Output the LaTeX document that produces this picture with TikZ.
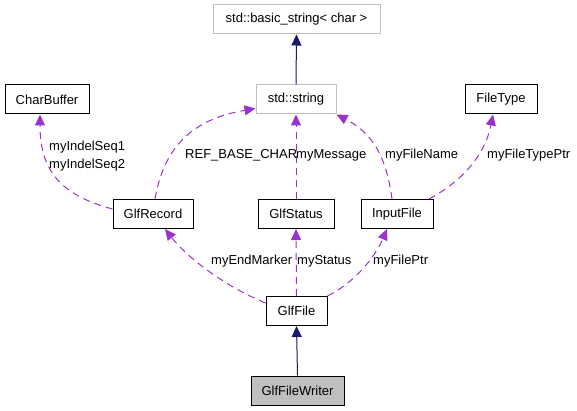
\documentclass[tikz,border=0pt]{standalone}
\usepackage{fontspec}
\setmainfont{Liberation Sans}
\usetikzlibrary{arrows.meta,calc}
\definecolor{edgepurple}{HTML}{9A32CD}
\definecolor{edgenavy}{HTML}{191970}
\definecolor{boxgray}{HTML}{BFBFBF}
\begin{document}
\begin{tikzpicture}[x=1pt,y=-1pt,
  every node/.style={font=\fontsize{13}{18}\selectfont},
  cls/.style={draw=black,line width=1pt,inner sep=0pt,minimum height=29pt},
  ext/.style={draw=boxgray,line width=1pt,inner sep=0pt,minimum height=29pt},
  usage/.style={edgepurple,line width=1pt,dash pattern=on 7pt off 5pt,
    -{Triangle[length=11pt,width=10pt,fill=edgepurple]}},
  inherit/.style={edgenavy,line width=1pt,
    -{Triangle[length=11pt,width=10pt,fill=edgenavy]}},
  lbl/.style={anchor=west,inner sep=0pt,text=black}]
\useasboundingbox (0,0) rectangle (577,411);
% nodes
\node[ext,minimum width=167pt] (bs) at (296.5,19.5) {std::basic\_string< char >};
\node[ext,minimum width=80pt] (ss) at (296,99.5) {std::string};
\node[cls,minimum width=84pt] (cb) at (47,99.5) {CharBuffer};
\node[cls,minimum width=72pt] (ft) at (501,99.5) {FileType};
\node[cls,minimum width=80pt] (gr) at (153,214) {GlfRecord};
\node[cls,minimum width=76pt] (gs) at (296,214) {GlfStatus};
\node[cls,minimum width=72pt] (inf) at (397,214) {InputFile};
\node[cls,minimum width=61pt] (gf) at (296.5,311) {GlfFile};
\node[cls,minimum width=93pt,fill=boxgray] (gfw) at (297.5,390.5) {GlfFileWriter};
% inheritance
\draw[inherit] (ss.north) -- (bs.south);
\draw[inherit] (gfw.north) -- (gf.north |- gf.south);
% usage
\draw[usage] ($(gr.west)+(0,-5)$) .. controls (60,195) and (40,170) .. ($(cb.south)+(-7,0)$);
\draw[usage] ($(gr.north)+(2,0)$) .. controls (165,140) and (200,118) .. ($(ss.west)+(0,9)$);
\draw[usage] (gs.north) -- (ss.south);
\draw[usage] ($(inf.north)+(-5,0)$) .. controls (386,155) and (372,133) .. ($(ss.south east)+(0,0)$);
\draw[usage] ($(inf.north)+(32,0)$) .. controls (468,178) and (486,150) .. ($(ft.south)+(-8,0)$);
\draw[usage] ($(gf.west)+(0,-8)$) .. controls (222,285) and (186,256) .. ($(gr.south)+(12,0)$);
\draw[usage] (gf.north) -- (gs.south);
\draw[usage] ($(gf.north east)+(0,0)$) .. controls (356,282) and (376,255) .. ($(inf.south)+(-10,0)$);
% labels
\node[lbl,align=left] (l1) at (49,156) {myIndelSeq1\\myIndelSeq2};
\node[lbl] (l2) at (185,155) {REF\_BASE\_CHAR};
\node[lbl] (l3) at (296,155) {myMessage};
\node[lbl] (l4) at (385,155) {myFileName};
\node[lbl] (l5) at (487,155) {myFileTypePtr};
\node[lbl] (l6) at (211,261) {myEndMarker};
\node[lbl] (l7) at (297,261) {myStatus};
\node[lbl] (l8) at (373,261) {myFilePtr};
\end{tikzpicture}
\end{document}
